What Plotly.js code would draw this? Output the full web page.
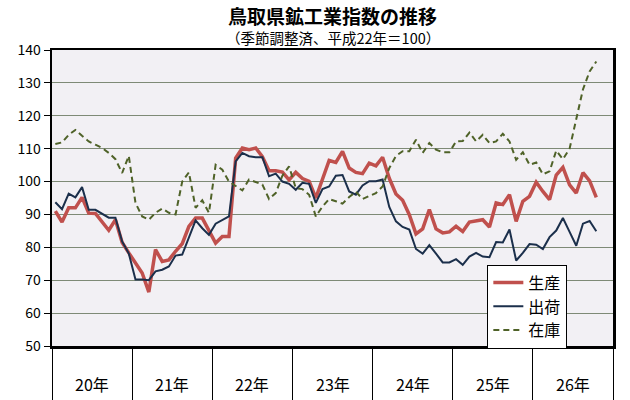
<!DOCTYPE html>
<html>
<head>
<meta charset="utf-8">
<script src="https://cdn.plot.ly/plotly-3.0.1.min.js"></script>
<style>
html,body{margin:0;padding:0;background:#fff;}
#chart{width:630px;height:400px;}
</style>
</head>
<body>
<div id="chart"></div>
<script>
// Years (平成) and months: Jan 20年 .. Oct 26年
const years = ["20年", "21年", "22年", "23年", "24年", "25年", "26年"];
const monthsPerYear = 12;

const production = [
  91.0, 87.7, 92.0, 92.0, 95.2, 90.4, 90.3, 87.9, 85.2, 88.4, 81.5, 78.3,
  75.2, 72.2, 66.4, 79.3, 75.7, 76.2, 78.8, 81.1, 86.4, 88.9, 88.9, 85.3,
  81.3, 83.3, 83.3, 107.1, 110.2, 109.7, 110.2, 107.6, 103.3, 103.3, 102.9, 100.5,
  102.8, 100.9, 100.1, 95.0, 101.1, 106.4, 105.8, 109.2, 104.1, 102.8, 102.4, 105.6,
  104.8, 107.4, 101.0, 96.2, 94.3, 89.9, 84.1, 85.6, 91.5, 85.6, 84.4, 84.7,
  86.4, 84.8, 87.7, 88.1, 88.4, 86.2, 93.5, 93.0, 96.0, 87.9, 94.0, 95.5,
  99.8, 97.0, 94.5, 102.0, 104.3, 99.0, 96.5, 102.7, 100.2, 95.2
];
const shipments = [
  93.7, 91.6, 96.3, 95.2, 98.3, 91.4, 91.4, 90.1, 89.0, 89.0, 81.8, 78.1,
  70.2, 70.2, 70.0, 72.7, 73.2, 74.2, 77.5, 77.8, 82.8, 88.2, 85.8, 83.8,
  87.2, 88.4, 89.4, 106.1, 108.7, 107.7, 107.4, 107.4, 101.6, 102.4, 100.0, 99.3,
  97.5, 99.6, 99.3, 93.5, 97.7, 98.5, 101.8, 102.0, 97.0, 96.0, 98.8, 100.1,
  100.1, 100.6, 92.3, 87.9, 86.2, 85.4, 79.5, 78.1, 80.7, 78.1, 75.4, 75.4,
  76.4, 74.7, 77.2, 78.3, 77.2, 77.0, 81.6, 81.5, 85.4, 76.0, 78.3, 81.0,
  80.8, 79.5, 83.1, 85.1, 88.9, 84.7, 80.5, 87.2, 88.0, 84.9
];
const inventory = [
  111.4, 111.9, 114.2, 115.7, 113.9, 112.2, 111.2, 110.2, 108.7, 106.8, 102.6, 107.8,
  93.5, 89.4, 88.4, 90.5, 91.8, 90.5, 90.0, 100.0, 102.8, 92.0, 94.3, 90.5,
  105.1, 103.6, 100.0, 98.7, 97.3, 100.6, 99.8, 99.1, 94.7, 96.5, 101.8, 104.6,
  98.0, 97.7, 96.0, 89.4, 92.4, 94.7, 94.0, 93.3, 95.3, 96.9, 94.7, 95.5,
  96.5, 98.5, 104.1, 107.8, 109.2, 109.2, 112.7, 108.7, 111.7, 109.7, 108.9, 108.9,
  112.2, 112.3, 114.9, 112.2, 114.2, 111.7, 112.2, 114.5, 112.2, 106.6, 108.9, 105.1,
  105.8, 102.2, 103.1, 109.4, 106.8, 110.0, 119.5, 128.0, 133.5, 136.5
];
const seriesNames = ["生産", "出荷", "在庫"];

const xIdx = production.map((_, i) => i);
const nMonths = years.length * monthsPerYear;
const FONT = '"Noto Sans CJK JP", "Noto Sans", sans-serif';

const traces = [
  {x: xIdx, y: production, name: seriesNames[0], type: 'scatter', mode: 'lines',
   line: {color: '#C0504D', width: 3.5}},
  {x: xIdx, y: shipments, name: seriesNames[1], type: 'scatter', mode: 'lines',
   line: {color: '#1B2F4B', width: 2}},
  {x: xIdx, y: inventory, name: seriesNames[2], type: 'scatter', mode: 'lines',
   line: {color: '#4F6228', width: 2, dash: '6px,4px'}}
];

const boundaries = [];
for (let k = 0; k <= years.length; k++) boundaries.push(k * monthsPerYear - 0.5);

const PLOT_TOP = 50, PLOT_H = 296;
const annotations = years.map((y, k) => ({
  x: k * monthsPerYear + (monthsPerYear - 1) / 2, xref: 'x',
  y: -0.13, yref: 'paper', yanchor: 'middle', xanchor: 'center',
  text: y, showarrow: false, font: {family: FONT, size: 16, color: '#000'}
}));
annotations.push({
  x: 0.5, xref: 'paper', y: 1 + (PLOT_TOP - 15) / PLOT_H, yref: 'paper',
  xanchor: 'center', yanchor: 'middle',
  text: '<b>鳥取県鉱工業指数の推移</b>', showarrow: false,
  font: {family: FONT, size: 19, color: '#000'}
});
annotations.push({
  x: 0.5, xref: 'paper', y: 1 + (PLOT_TOP - 37) / PLOT_H, yref: 'paper',
  xanchor: 'center', yanchor: 'middle',
  text: '（季節調整済、平成22年＝100）', showarrow: false,
  font: {family: FONT, size: 14.5, color: '#000'}
});

const layout = {
  width: 630, height: 400,
  margin: {l: 52, r: 17, t: PLOT_TOP, b: 54},
  paper_bgcolor: '#ffffff',
  plot_bgcolor: '#F2F0F4',
  font: {family: FONT, color: '#000'},
  showlegend: true,
  legend: {x: 0.776, y: 0.275, xanchor: 'left', yanchor: 'top',
           bgcolor: '#ffffff', bordercolor: '#000', borderwidth: 1,
           font: {family: FONT, size: 16, color: '#000'},
           tracegroupgap: 0, itemwidth: 30},
  xaxis: {range: [-0.5, nMonths - 0.5], tickvals: boundaries, ticks: 'outside',
          ticklen: 54, tickwidth: 1, tickcolor: '#000', showticklabels: false,
          showgrid: false, zeroline: false, showline: true, mirror: true,
          linecolor: '#000', linewidth: 2.5, fixedrange: true},
  yaxis: {range: [50, 140], dtick: 10, tick0: 50, ticks: 'outside', ticklen: 6,
          tickcolor: '#000', tickwidth: 1, showgrid: true, gridcolor: '#7E8A76',
          gridwidth: 1, zeroline: false, showline: true, mirror: true,
          linecolor: '#000', linewidth: 2.5,
          tickfont: {family: FONT, size: 14, color: '#000'}, fixedrange: true},
  annotations: annotations
};

Plotly.newPlot('chart', traces, layout, {staticPlot: true, displayModeBar: false});
</script>
</body>
</html>
